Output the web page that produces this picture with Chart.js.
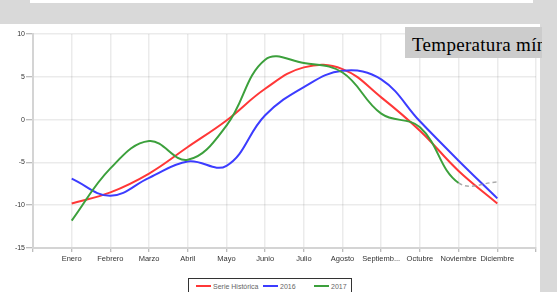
<!DOCTYPE html>
<html>
<head>
<meta charset="utf-8">
<script src="https://cdn.jsdelivr.net/npm/chart.js@4/dist/chart.umd.min.js"></script>
<style>
  html, body { margin:0; padding:0; }
  body { width:557px; height:292px; background:#d9d9d9; position:relative; overflow:hidden; font-family:"Liberation Sans", Arial, sans-serif; }
  #topbox { position:absolute; left:30px; top:0; width:503px; height:3px; background:#fff; }
  #panel { position:absolute; left:0; top:24px; width:540px; height:268px; background:#fff; }
  #cv { position:absolute; left:0; top:24px; }
  #title { position:absolute; left:405px; top:27px; width:137px; height:31px; background:#cccccc; overflow:hidden; white-space:nowrap;
           font-family:"Liberation Serif", "Times New Roman", serif; font-size:19px; letter-spacing:0.3px; color:#000; line-height:31px; padding-left:7px; box-sizing:border-box; padding-top:2px; }
  #legend { position:absolute; left:188px; top:278px; width:164px; height:22px; border:1.5px solid #333; box-sizing:border-box; background:#fff;
            font-size:7px; color:#666; }
  .item { position:absolute; top:4px; height:8px; line-height:8px; white-space:nowrap; }
  .sw { display:inline-block; width:15px; height:2px; vertical-align:middle; margin-right:2px; position:relative; top:-1px; }
</style>
</head>
<body>
<div id="topbox"></div>
<div id="panel"></div>
<canvas id="cv" width="540" height="268"></canvas>
<div id="title">Temperatura mínima</div>
<div id="legend"></div>
<script>
const categories = ["Enero","Febrero","Marzo","Abril","Mayo","Junio","Julio","Agosto","Septiembre","Octubre","Noviembre","Diciembre"];
const serieHistorica = [-9.8, -8.5, -6.3, -3.2, -0.1, 3.6, 6.1, 5.9, 2.6, -1.3, -6.0, -9.8];
const serie2016 = [-6.9, -8.9, -6.8, -4.9, -5.4, 0.5, 3.8, 5.7, 4.7, -0.2, -4.8, -9.2];
const serie2017 = [-11.8, -5.7, -2.5, -4.7, -0.7, 7.0, 6.6, 5.5, 0.7, -0.9, -7.4, -7.3];
const seriesNames = ["Serie Histórica", "2016", "2017"];
const seriesColors = ["rgb(255,55,55)", "rgb(60,60,255)", "rgb(60,160,60)"];
const yTicks = [-15, -10, -5, 0, 5, 10];

const toPts = arr => arr.map((v, i) => ({x: i + 1, y: v}));
const lastIdx = categories.length - 1;

const datasets = [serieHistorica, serie2016, serie2017].map((arr, k) => ({
  label: seriesNames[k],
  data: toPts(arr),
  borderColor: seriesColors[k],
  borderWidth: 2,
  pointRadius: 0,
  tension: 0.4,
  fill: false
}));
datasets[2].segment = {
  borderColor: ctx => ctx.p1DataIndex === lastIdx ? "rgba(150,150,150,0.8)" : undefined,
  borderDash: ctx => ctx.p1DataIndex === lastIdx ? [4, 3] : undefined,
  borderWidth: ctx => ctx.p1DataIndex === lastIdx ? 1.5 : undefined
};
datasets.reverse();

const chart = new Chart(document.getElementById('cv'), {
  type: 'line',
  data: { datasets },
  options: {
    responsive: false,
    animation: false,
    layout: { padding: { left: 0, right: 4, top: 10, bottom: 0 } },
    plugins: { legend: { display: false }, tooltip: { enabled: false } },
    scales: {
      x: {
        type: 'linear', min: 0, max: categories.length + 1,
        afterFit: s => { s.height = 44; },
        afterBuildTicks: s => { s.ticks = Array.from({length: categories.length + 2}, (_, i) => ({value: i})); },
        ticks: {
          autoSkip: false, maxRotation: 0, padding: 2,
          color: '#333', font: { size: 7.5, family: "Liberation Sans" },
          callback: v => { const c = categories[v - 1]; if (!c) return ''; return c.length > 9 ? c.slice(0, 8) + '...' : c; }
        },
        grid: { color: 'rgba(0,0,0,0.08)', lineWidth: 1.5, tickLength: 4, tickColor: 'rgba(0,0,0,0.35)', tickWidth: 1 },
        border: { color: '#d4d4d4', width: 2 }
      },
      y: {
        min: yTicks[0], max: yTicks[yTicks.length - 1],
        afterFit: s => { s.width = 33; },
        afterBuildTicks: s => { s.ticks = yTicks.map(v => ({value: v})); },
        ticks: { padding: 1, color: '#333', font: { size: 7, family: "Liberation Sans" } },
        grid: { color: 'rgba(0,0,0,0.08)', lineWidth: 1.5, tickLength: 7, tickColor: 'rgba(0,0,0,0.35)', tickWidth: 1 },
        border: { color: '#d4d4d4', width: 2 }
      }
    }
  }
});

// legend built from the chart's datasets
const lg = document.getElementById('legend');
const pos = [7, 74, 125];
chart.data.datasets.slice().reverse().forEach((ds, i) => {
  const d = document.createElement('div');
  d.className = 'item';
  d.style.left = pos[i] + 'px';
  d.innerHTML = '<span class="sw" style="background:' + ds.borderColor + '"></span>' + ds.label;
  lg.appendChild(d);
});
</script>
</body>
</html>
